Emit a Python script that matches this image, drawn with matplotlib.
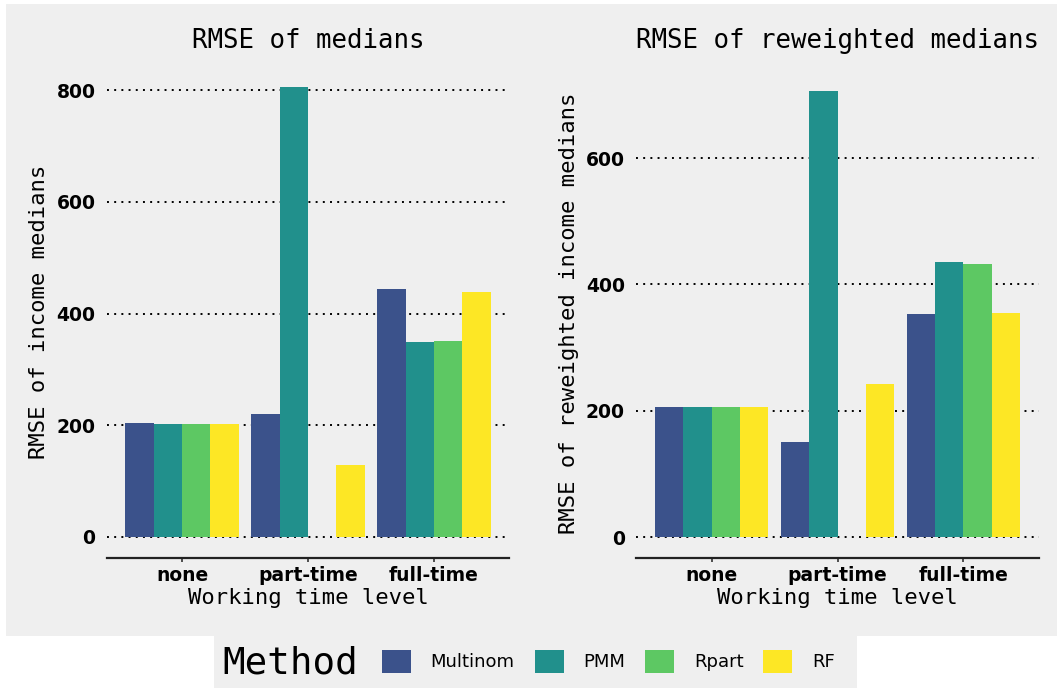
import numpy as np
import matplotlib
matplotlib.use('Agg')
import matplotlib.pyplot as plt
from matplotlib.patches import Patch, Rectangle

# data
levels = ['none', 'part-time', 'full-time']
methods = ['Multinom', 'PMM', 'Rpart', 'RF']
colors = ['#3B528B', '#21908C', '#5DC863', '#FDE725']

rmse_medians = {
    'Multinom': [204, 220, 444],
    'PMM': [202, 805, 349],
    'Rpart': [202, np.nan, 351],
    'RF': [202, 129, 438],
}
rmse_reweighted = {
    'Multinom': [206, 150, 353],
    'PMM': [206, 706, 435],
    'Rpart': [206, np.nan, 432],
    'RF': [206, 242, 354],
}

W, H = 1057, 688
BG = '#EFEFEF'
MONO = 'DejaVu Sans Mono'

fig = plt.figure(figsize=(W / 100, H / 100), dpi=100, facecolor='white')

# gray plot background and legend box
fig.patches.append(Rectangle((6 / W, (H - 636) / H), (W - 6) / W, 632 / H,
                             transform=fig.transFigure, facecolor=BG, edgecolor='none', zorder=-10))
fig.patches.append(Rectangle((214 / W, 0), (857 - 214) / W, (H - 636) / H,
                             transform=fig.transFigure, facecolor=BG, edgecolor='none', zorder=-10))


def px_axes(left, right, top, bottom):
    return fig.add_axes([left / W, (H - bottom) / H, (right - left) / W, (bottom - top) / H])


def draw_panel(ax, data, title, ylabel, ylim, yticks, title_pad):
    x = np.arange(1, len(levels) + 1)
    width = 0.225
    for i, m in enumerate(methods):
        ax.bar(x + (i - 1.5) * width, data[m], width=width, color=colors[i],
               edgecolor='none', zorder=3)
    ax.set_facecolor(BG)
    ax.set_xlim(0.4, 3.6)
    ax.set_ylim(*ylim)
    ax.set_yticks(yticks)
    ax.set_xticks(x)
    ax.set_xticklabels(levels, fontsize=13.5, fontweight='bold')
    for lab in ax.get_yticklabels():
        lab.set_fontsize(13.5)
        lab.set_fontweight('bold')
    ax.tick_params(axis='y', length=0, pad=8)
    ax.tick_params(axis='x', length=3, width=1.2, color='#333333', pad=3)
    ax.yaxis.grid(True, color='black', linestyle=(0, (1, 2.7)), linewidth=1.4, zorder=1)
    ax.xaxis.grid(False)
    for s in ['top', 'right', 'left']:
        ax.spines[s].set_visible(False)
    ax.spines['bottom'].set_linewidth(1.6)
    ax.spines['bottom'].set_color('#222222')
    ax.set_title(title, fontsize=18.5, family=MONO, pad=title_pad)
    ax.set_ylabel(ylabel, fontsize=16, family=MONO, labelpad=5)
    ax.set_xlabel('Working time level', fontsize=16, family=MONO, labelpad=2)


ax1 = px_axes(106.5, 509.5, 65, 558)
draw_panel(ax1, rmse_medians, 'RMSE of medians', 'RMSE of income medians',
           (-37.6, 845), [0, 200, 400, 600, 800], 12)

ax2 = px_axes(636, 1039, 69, 558)
draw_panel(ax2, rmse_reweighted, 'RMSE of reweighted medians',
           'RMSE of reweighted income medians', (-33.2, 741), [0, 200, 400, 600], 15)

# legend
fig.text(222 / W, (H - 663) / H, 'Method', family=MONO, fontsize=27, va='center', ha='left')
handles = [Patch(facecolor=c, edgecolor='none', label=m) for m, c in zip(methods, colors)]
fig.legend(handles=handles, ncol=4, frameon=False, fontsize=13,
           loc='center left', bbox_to_anchor=(382 / W, (H - 661.5) / H),
           borderpad=0, borderaxespad=0, handlelength=1.6, handleheight=1.6,
           handletextpad=1.1, columnspacing=1.1)

fig.savefig('out.png', dpi=100, facecolor='white')
